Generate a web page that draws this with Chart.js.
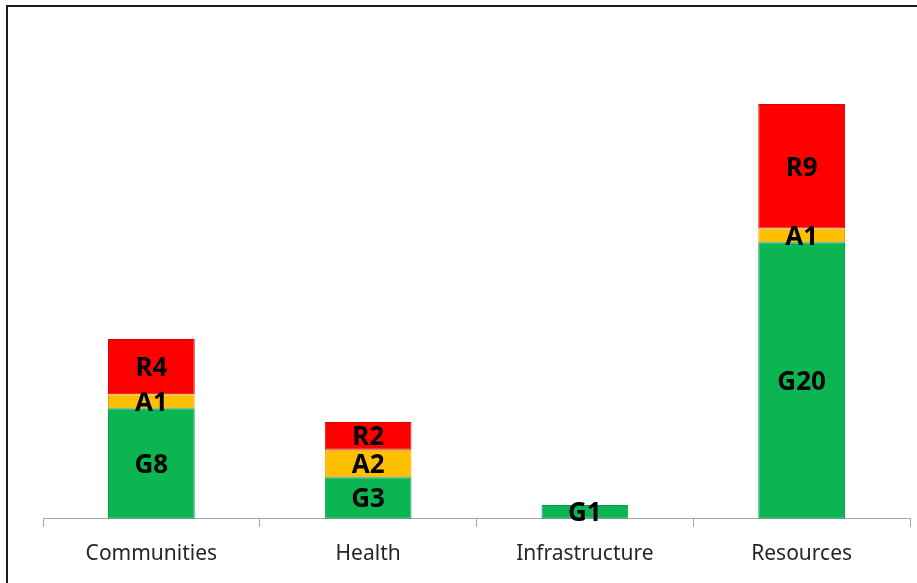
<!DOCTYPE html>
<html><head><meta charset="utf-8">
<script src="https://cdn.jsdelivr.net/npm/chart.js@4/dist/chart.umd.min.js"></script>
<style>
html,body{margin:0;padding:0;background:#fff;overflow:hidden}
#wrap{position:relative;width:917px;height:583px}
#frame{position:absolute;left:6px;top:5px;width:1000px;height:1000px;border:2px solid #1a1a1a;box-shadow:1px 1px 1px #888;pointer-events:none}
canvas{position:absolute;left:0;top:0}
</style></head><body>
<div id="wrap"><canvas id="c" width="917" height="583"></canvas><div id="frame"></div></div>
<script>
const categories = ["Communities", "Health", "Infrastructure", "Resources"];
const greenValues = [8, 3, 1, 20];
const amberValues = [1, 2, 0, 1];
const redValues = [4, 2, 0, 9];
const seriesPrefixes = ["G", "A", "R"];

const labelPlugin = {
  id: 'segLabels',
  afterDatasetsDraw(chart) {
    const ctx = chart.ctx;
    ctx.save();
    ctx.font = 'bold 26px "Noto Sans", sans-serif';
    ctx.fillStyle = '#000';
    ctx.textAlign = 'center';
    ctx.textBaseline = 'middle';
    chart.data.datasets.forEach((ds, di) => {
      const meta = chart.getDatasetMeta(di);
      meta.data.forEach((bar, i) => {
        const v = ds.data[i];
        if (!v) return;
        const yc = (bar.y + bar.base) / 2;
        ctx.fillText(seriesPrefixes[di] + v, bar.x, yc + 2);
      });
    });
    ctx.restore();
  }
};

new Chart(document.getElementById('c'), {
  type: 'bar',
  data: {
    labels: categories,
    datasets: [
      {label: 'Green', data: greenValues, backgroundColor: '#0bb552', borderColor: '#079a43', borderWidth: 1, borderSkipped: false},
      {label: 'Amber', data: amberValues, backgroundColor: '#ffc000', borderColor: '#e0a400', borderWidth: 1, borderSkipped: false},
      {label: 'Red', data: redValues, backgroundColor: '#ff0000', borderColor: '#d90000', borderWidth: 1, borderSkipped: false}
    ]
  },
  options: {
    responsive: false,
    animation: false,
    layout: {padding: {left: 43, right: 7, top: 21, bottom: 1}},
    plugins: {legend: {display: false}, tooltip: {enabled: false}},
    datasets: {bar: {categoryPercentage: 1, barPercentage: 0.4}},
    scales: {
      x: {
        stacked: true,
        grid: {drawOnChartArea: false, drawTicks: true, tickLength: 8, color: '#a6a6a6', offset: true},
        border: {display: true, color: '#a6a6a6', width: 1},
        ticks: {color: '#262626', font: {family: '"Noto Sans", sans-serif', size: 21}, padding: 15}
      },
      y: {
        stacked: true, display: false, min: 0, max: 36
      }
    }
  },
  plugins: [labelPlugin]
});
</script>
</body></html>
